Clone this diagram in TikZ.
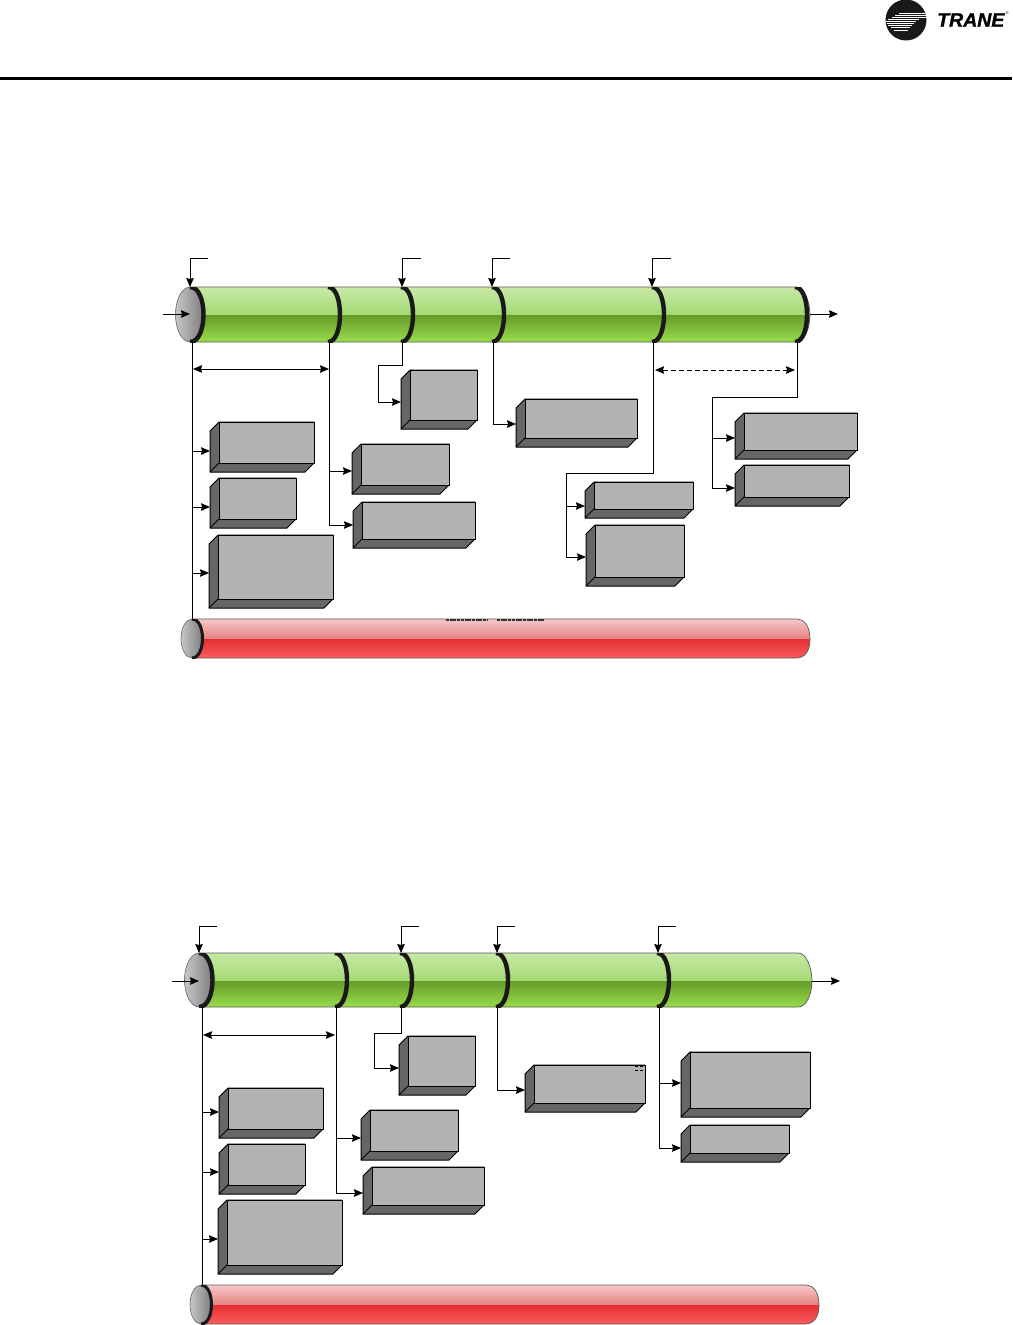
\documentclass[tikz,border=0pt]{standalone}
\usepackage{fontspec}
\setmainfont{Liberation Sans}
\newfontfamily\tranefont[FakeBold=1.2]{Liberation Sans}
\usetikzlibrary{arrows.meta,calc}
\definecolor{facegray}{HTML}{B2B2B2}
\definecolor{sidegray}{HTML}{666666}
\definecolor{gA}{HTML}{C8E9A6}
\definecolor{gB}{HTML}{A3D973}
\definecolor{gC}{HTML}{659C28}
\definecolor{gD}{HTML}{99DD4C}
\definecolor{rA}{HTML}{F8C8C8}
\definecolor{rB}{HTML}{E48080}
\definecolor{rC}{HTML}{E53033}
\definecolor{rD}{HTML}{FA5C5C}
\tikzset{
  conn/.style={line width=1pt,draw=black},
  arr/.style={conn,-{Stealth[length=9pt,width=7.5pt,inset=1pt]}},
  dblarr/.style={conn,{Stealth[length=9pt,width=7.5pt,inset=1pt]}-{Stealth[length=9pt,width=7.5pt,inset=1pt]}},
  dasharr/.style={dblarr,dash pattern=on 5pt off 3pt},
  facebox/.style={draw=black,line width=1pt,fill=facegray,anchor=north west,inner sep=0pt,outer sep=0pt},
  sidebox/.style={draw=black,line width=1pt,fill=sidegray,line join=round},
  bandline/.style={line width=4.4pt,draw=black!90},
  tubeline/.style={line width=.7pt,draw=black!65},
  capfill/.style={draw=black!60,line width=.6pt,left color=black!22,right color=black!52},
}
% name, left, top, right, bottom, y of incoming arrow
\newcommand{\gbx}[6]{%
  \path[sidebox] (#2+9,#3) -- (#4-1,#3) -- (#4-1,#5-9) -- (#4-10,#5) -- (#2,#5) -- (#2,#3+9) -- cycle;
  \draw[conn] (#2+9,#5-9) -- (#2,#5);
  \node[facebox,minimum width={#4-#2-10},minimum height={#5-#3-9}] (#1) at (#2+9,#3) {};
  \coordinate (#1-in) at (#2,#6);
}
% x0, x1, top, bottom, mid, upper top/bottom, lower top/bottom colours
\newcommand{\tubebody}[9]{%
  \path[top color=#6,bottom color=#7] (#1,#3) -- (#2-14,#3) .. controls (#2-5,#3) and (#2,{#5-12}) .. (#2,#5) -- (#1,#5) -- cycle;
  \path[top color=#8,bottom color=#9] (#1,#5) -- (#2,#5) .. controls (#2,{#5+12}) and (#2-5,#4) .. (#2-14,#4) -- (#1,#4) -- cycle;
  \draw[tubeline] (#1,#3) -- (#2-14,#3) .. controls (#2-5,#3) and (#2,{#5-12}) .. (#2,#5) .. controls (#2,{#5+12}) and (#2-5,#4) .. (#2-14,#4) -- (#1,#4);
}
% name, x, top, bottom, bulge control
\newcommand{\bandarc}[5]{%
  \coordinate (#1-t) at (#2,#3);
  \coordinate (#1-b) at (#2,#4);
  \begin{scope}
    \clip (#2-6,#3) rectangle (#2+30,#4);
    \draw[bandline] (#2,#3) .. controls (#2+#5,#3) and (#2+#5,#4) .. (#2,#4);
  \end{scope}
}
% name, centre x, centre y, x radius, y radius
\newcommand{\capend}[5]{%
  \path[capfill] (#2,#3) ellipse[x radius=#4pt,y radius=#5pt];
  \coordinate (#1) at (#2,#3);
}
\begin{document}
\begin{tikzpicture}[x=1pt,y=-1pt]
\useasboundingbox (0,0) rectangle (1012,1325);
% header
\coordinate (hl) at (0,78); \coordinate (hr) at (1012,78);
\draw[line width=3pt] (hl) -- (hr);
\begin{scope}
  \fill[black!90] (906,20) circle[radius=20.5pt];
  \clip (906,20) circle[radius=20.5pt];
  \foreach \yy/\xa/\xb in {13/899/927,15/895/927,17/892/927,19/888/919,21/886/916,23/887/914,25/888/912,27/891/910,30/894/908}
    \draw[white,line width=.8pt] (\xa,\yy) -- (\xb,\yy);
\end{scope}
\node[inner sep=0pt,anchor=west,font=\tranefont\bfseries\itshape\fontsize{19.5}{20}\selectfont] (logo) at (937,20) {TRANE};
\node[inner sep=0pt,font=\fontsize{4}{4}\selectfont] (reg) at (1007,13) {®};

% ---------- upper diagram ----------
\tubebody{190}{810}{287}{342}{315}{gA}{gB}{gC}{gD}
\capend{capA}{190}{314.5}{14.5}{27.5}
\bandarc{a0}{190}{287}{342}{18}
\bandarc{a1}{328}{287}{342}{16}
\bandarc{a2}{401}{287}{342}{16}
\bandarc{a3}{492}{287}{342}{16}
\bandarc{a4}{652}{287}{342}{16}
\bandarc{a5}{795}{287}{342}{16}

\tubebody{192}{810}{619}{658}{639}{rA}{rB}{rC}{rD}
\capend{capB}{192}{638.5}{11}{19.5}
\begin{scope}
  \clip (186,619) rectangle (215,658);
  \draw[bandline,line width=3pt] (192,619) .. controls (206,619) and (206,658) .. (192,658);
\end{scope}
\draw[black!80,line width=1.3pt,dash pattern=on 3pt off .7pt] (446,620) -- (488,620) (497,620) -- (544,620);

% boxes
\gbx{A}{210}{422}{315}{472}{451}
\gbx{B}{210}{478}{297}{528}{507}
\gbx{C}{209}{535}{334}{608}{573}
\gbx{D}{352}{444}{450}{494}{471}
\gbx{E}{353}{502}{476}{548}{525}
\gbx{F}{401}{370}{478}{429}{402}
\gbx{G}{516}{399}{638}{447}{424}
\gbx{H}{585}{482}{694}{518}{506}
\gbx{I}{586}{525}{685}{586}{557}
\gbx{J}{735}{413}{858}{459}{438}
\gbx{K}{735}{465}{850}{506}{488}

% top callouts
\coordinate (ca1) at (208,258); \coordinate (ca2) at (421,258);
\coordinate (ca3) at (510,258); \coordinate (ca4) at (671,258);
\draw[arr] (ca1) -| (capA |- a1-t);
\draw[arr] (ca2) -| (402,287);
\draw[arr] (ca3) -| (a3-t);
\draw[arr] (ca4) -| (a4-t);
% inlet and outlet
\coordinate (ina) at (163,314); \coordinate (outa) at (838,314); \coordinate (enda) at (810,314);
\draw[arr] (ina) -- (ina -| capA);
\draw[arr] (enda) -- (outa);
% spine 1
\coordinate (s1t) at (192,342); \coordinate (s1b) at (192,620);
\draw[conn] (s1t) -- (s1b);
\draw[arr] (s1t |- A-in) -- (A-in);
\draw[arr] (s1t |- B-in) -- (B-in);
\draw[arr] (s1t |- C-in) -- (C-in);
\coordinate (da1) at (193,369); \coordinate (da2) at (329,369);
\draw[dblarr] (da1) -- (da2);
% spine 2
\coordinate (s2t) at (329,342);
\draw[conn] (s2t) -- (s2t |- E-in);
\draw[arr] (s2t |- D-in) -- (D-in);
\draw[arr] (s2t |- E-in) -- (E-in);
% F, G
\coordinate (fa) at (378,365);
\coordinate (fs) at (402,342);
\draw[arr] (fs) |- (fa) |- (F-in);
\coordinate (gs) at (493,342);
\draw[arr] (gs) |- (G-in);
% H, I
\coordinate (hi) at (566,473);
\coordinate (hs) at (653,342);
\draw[conn] (hs) |- (hi) -- (hi |- I-in);
\draw[arr] (hi |- H-in) -- (H-in);
\draw[arr] (hi |- I-in) -- (I-in);
% dashed span
\coordinate (db1) at (655,370); \coordinate (db2) at (795,370);
\draw[dasharr] (db1) -- (db2);
% J, K
\coordinate (jk) at (712,397);
\coordinate (js) at (797,342);
\draw[conn] (js) |- (jk) -- (jk |- K-in);
\draw[arr] (jk |- J-in) -- (J-in);
\draw[arr] (jk |- K-in) -- (K-in);

% ---------- lower diagram ----------
\tubebody{199}{812}{953}{1007}{981}{gA}{gB}{gC}{gD}
\capend{capC}{199}{980}{14.5}{27}
\bandarc{b0}{199}{953}{1007}{18}
\bandarc{b1}{335}{953}{1007}{16}
\bandarc{b2}{400}{953}{1007}{16}
\bandarc{b3}{496}{953}{1007}{16}
\bandarc{b4}{657}{953}{1007}{16}

\tubebody{201}{819}{1285}{1324}{1305}{rA}{rB}{rC}{rD}
\capend{capD}{201}{1304.5}{11}{19.5}
\begin{scope}
  \clip (195,1285) rectangle (224,1324);
  \draw[bandline,line width=3pt] (201,1285) .. controls (215,1285) and (215,1324) .. (201,1324);
\end{scope}

\gbx{a}{219}{1088}{324}{1138}{1112}
\gbx{b}{219}{1144}{306}{1194}{1172}
\gbx{c}{218}{1200}{343}{1274}{1239}
\gbx{d}{361}{1110}{459}{1160}{1138}
\gbx{e}{363}{1167}{485}{1214}{1193}
\gbx{f}{399}{1036}{476}{1095}{1068}
\gbx{g}{525}{1065}{646}{1112}{1090}
\gbx{h}{681}{1052}{811}{1117}{1083}
\gbx{i}{681}{1125}{790}{1162}{1148}
\draw[black,line width=.7pt,dash pattern=on 3pt off 1.5pt] (635,1066) -- (644,1066) (635,1070) -- (644,1070);

\coordinate (cb1) at (217,926); \coordinate (cb2) at (419,926);
\coordinate (cb3) at (515,926); \coordinate (cb4) at (676,926);
\draw[arr] (cb1) -| (capC |- b1-t);
\draw[arr] (cb2) -| (401,953);
\draw[arr] (cb3) -| (497,953);
\draw[arr] (cb4) -| (658,953);
\coordinate (inb) at (172,981); \coordinate (outb) at (840,981); \coordinate (endb) at (812,981);
\draw[arr] (inb) -- (inb -| capC);
\draw[arr] (endb) -- (outb);
\coordinate (s3t) at (202,1007); \coordinate (s3b) at (202,1285);
\draw[conn] (s3t) -- (s3b);
\draw[arr] (s3t |- a-in) -- (a-in);
\draw[arr] (s3t |- b-in) -- (b-in);
\draw[arr] (s3t |- c-in) -- (c-in);
\coordinate (dc1) at (203,1035); \coordinate (dc2) at (335,1035);
\draw[dblarr] (dc1) -- (dc2);
\coordinate (s4t) at (336,1007);
\draw[conn] (s4t) -- (s4t |- e-in);
\draw[arr] (s4t |- d-in) -- (d-in);
\draw[arr] (s4t |- e-in) -- (e-in);
\coordinate (fb) at (374,1033);
\coordinate (fbs) at (401,1007);
\draw[arr] (fbs) |- (fb) |- (f-in);
\coordinate (gbs) at (497,1007);
\draw[arr] (gbs) |- (g-in);
\coordinate (hbs) at (659,1007);
\draw[conn] (hbs) -- (hbs |- i-in);
\draw[arr] (hbs |- h-in) -- (h-in);
\draw[arr] (hbs |- i-in) -- (i-in);
\end{tikzpicture}
\end{document}
